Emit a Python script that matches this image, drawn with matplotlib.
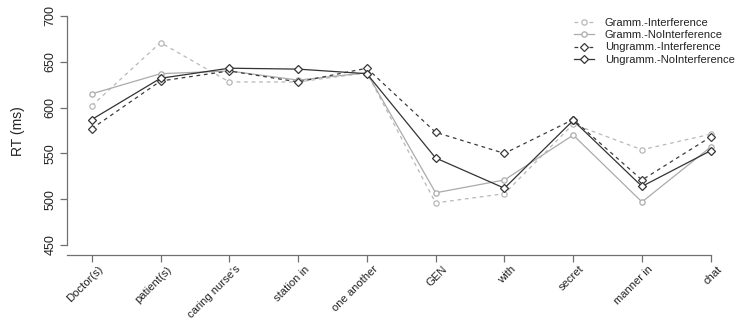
import numpy as np
import matplotlib
matplotlib.use('Agg')
import matplotlib.pyplot as plt
import matplotlib.transforms as mtransforms

plt.rcParams['font.family'] = ['Liberation Sans', 'DejaVu Sans']

# data
words = ['Doctor(s)', 'patient(s)', "caring nurse's", 'station in', 'one another',
         'GEN', 'with', 'secret', 'manner in', 'chat']
gramm_int = [602, 671, 628, 628, 638, 496, 506, 582, 554, 571]
gramm_noint = [615, 637, 640, 630, 638, 507, 521, 570, 497, 557]
ungramm_int = [577, 629, 640, 628, 643, 573, 550, 587, 521, 568]
ungramm_noint = [587, 632, 643, 642, 637, 545, 512, 586, 514, 553]
yticks = [450, 500, 550, 600, 650, 700]

series = [
    ('Gramm.-Interference', gramm_int, '#b8b8b8', (0, (3, 3)), 'o'),
    ('Gramm.-NoInterference', gramm_noint, '#ababab', '-', 'o'),
    ('Ungramm.-Interference', ungramm_int, '#3c3c3c', (0, (3, 3)), 'D'),
    ('Ungramm.-NoInterference', ungramm_noint, '#333333', '-', 'D'),
]

fig = plt.figure(figsize=(7.37, 3.22), dpi=100)
ax = fig.add_axes([66.5 / 737, 67 / 322, 669 / 737, 248 / 322])

x = np.arange(len(words))
for name, vals, col, ls, mk in series:
    ms = 3.8 if mk == 'o' else 3.6
    ax.plot(x, vals, color=col, linestyle=ls, linewidth=0.9, marker=mk,
            markersize=ms, markerfacecolor='white', markeredgecolor=col,
            markeredgewidth=0.9, label=name)

ax.set_xlim(-0.367, 9.36)
ax.set_ylim(439.1, 709.8)

for s in ['top', 'right']:
    ax.spines[s].set_visible(False)
ax.spines['left'].set_bounds(450, 700)
ax.spines['bottom'].set_bounds(-0.367, 9)
for s in ['left', 'bottom']:
    ax.spines[s].set_color('#707070')
    ax.spines[s].set_linewidth(0.9)

ax.set_yticks(yticks)
ax.set_yticklabels([str(v) for v in yticks], rotation=90, va='center', fontsize=9)
ax.set_xticks(x)
ax.set_xticklabels(words, rotation=45, ha='right', rotation_mode='anchor', fontsize=8.1)
ax.tick_params(axis='both', direction='out', length=5, width=0.9,
               color='#707070', labelcolor='#222222')
ax.tick_params(axis='y', pad=2)
ax.tick_params(axis='x', pad=1.5)

# nudge the slanted labels to the right, like the reference
shift = mtransforms.ScaledTranslation(6 / 100, 0, fig.dpi_scale_trans)
for lab in ax.get_xticklabels():
    lab.set_transform(lab.get_transform() + shift)

ax.set_ylabel('RT (ms)', fontsize=10, color='#222222', labelpad=14)

leg = ax.legend(loc='upper left', bbox_to_anchor=(568 / 737, 1 - 12 / 322),
                bbox_transform=fig.transFigure, frameon=False, fontsize=8,
                handlelength=1.8, handletextpad=1.0, labelspacing=0.22,
                borderpad=0)
for t in leg.get_texts():
    t.set_color('#222222')

fig.savefig('out.png', dpi=100)
